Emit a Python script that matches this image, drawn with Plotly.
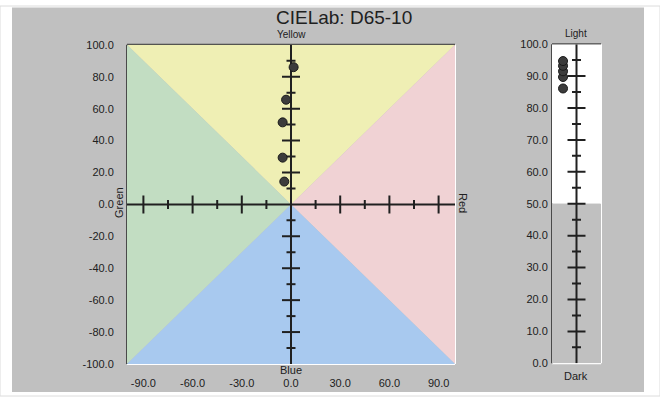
import plotly.graph_objects as go

# --- Data -------------------------------------------------------------
# CIELab samples (a*, b*, L*)
a_vals = [1.6, -3.0, -5.1, -5.1, -4.1]
b_vals = [86.0, 65.6, 51.4, 29.3, 14.3]
L_vals = [86.1, 89.7, 91.5, 93.2, 94.7]

ab_ticks = [-90, -60, -30, 0, 30, 60, 90]
ab_ticktext = ["-90.0", "-60.0", "-30.0", "0.0", "30.0", "60.0", "90.0"]
b_ticks = [-100, -80, -60, -40, -20, 0, 20, 40, 60, 80, 100]
b_ticktext = ["-100.0", "-80.0", "-60.0", "-40.0", "-20.0", "0.0",
              "20.0", "40.0", "60.0", "80.0", "100.0"]
L_ticks = [0, 10, 20, 30, 40, 50, 60, 70, 80, 90, 100]
L_ticktext = ["0.0", "10.0", "20.0", "30.0", "40.0", "50.0",
              "60.0", "70.0", "80.0", "90.0", "100.0"]

# cross-hair tick marks drawn on the centre axes
a_major = [-90, -60, -30, 30, 60, 90]
a_minor = [-75, -45, -15, 15, 45, 75]
b_major = [-80, -60, -40, -20, 20, 40, 60, 80]
b_minor = [-90, -70, -50, -30, -10, 10, 30, 50, 70, 90]
L_major = [10, 20, 30, 40, 50, 60, 70, 80, 90]
L_minor = [5, 15, 25, 35, 45, 55, 65, 75, 85, 95]

# --- Layout helpers ---------------------------------------------------
W, H = 660, 402
FONT = "Liberation Sans, Arial, sans-serif"
GRAY = "#C0C0C0"
DARK = "#202020"


def px(x):
    return x / W


def py(y):
    return 1 - y / H


fig = go.Figure()

# a*/b* scatter
fig.add_trace(go.Scatter(
    x=a_vals, y=b_vals, mode="markers", xaxis="x", yaxis="y",
    marker=dict(size=9, color="#3c3c3c", line=dict(color="#1a1a1a", width=1)),
    showlegend=False, hoverinfo="x+y"))

# L* scatter (placed left of the lightness axis)
L_column = -0.55
fig.add_trace(go.Scatter(
    x=[L_column] * len(L_vals), y=L_vals, mode="markers", xaxis="x2", yaxis="y2",
    marker=dict(size=9, color="#3c3c3c", line=dict(color="#1a1a1a", width=1)),
    showlegend=False, hoverinfo="y"))

shapes = []
# outer page frame and grey panel
shapes.append(dict(type="rect", xref="paper", yref="paper", x0=0, x1=1, y0=0, y1=1,
                   line=dict(color="#dcdcdc", width=1), fillcolor="white", layer="below"))
shapes.append(dict(type="rect", xref="paper", yref="paper", x0=px(12), x1=px(644),
                   y0=py(398), y1=py(1.5), line=dict(width=0), fillcolor=GRAY, layer="below"))

# hue quadrants
quadrants = [
    ("M -100,100 L 100,100 L 0,0 Z", "#EFEFB4"),    # yellow
    ("M -100,100 L 0,0 L -100,-100 Z", "#C2DDC2"),  # green
    ("M 100,100 L 100,-100 L 0,0 Z", "#F0D2D4"),    # red
    ("M -100,-100 L 0,0 L 100,-100 Z", "#A8C9EF"),  # blue
]
for path, col in quadrants:
    shapes.append(dict(type="path", xref="x", yref="y", path=path,
                       fillcolor=col, line=dict(width=0), layer="below"))

# sunken frame of the a*/b* plot
shapes += [
    dict(type="line", xref="x domain", yref="y domain", x0=0, x1=1, y0=0, y1=0,
         line=dict(color="white", width=2), layer="below"),
    dict(type="line", xref="x domain", yref="y domain", x0=1, x1=1, y0=0, y1=1,
         line=dict(color="white", width=2), layer="below"),
    dict(type="line", xref="x domain", yref="y domain", x0=0, x1=1, y0=1, y1=1,
         line=dict(color="#4a4a4a", width=2), layer="below"),
    dict(type="line", xref="x domain", yref="y domain", x0=0, x1=0, y0=0, y1=1,
         line=dict(color="#4a4a4a", width=2), layer="below"),
]

# centre axes
shapes.append(dict(type="line", xref="x", yref="y", x0=-100, x1=100, y0=0, y1=0,
                   line=dict(color=DARK, width=2), layer="below"))
shapes.append(dict(type="line", xref="x", yref="y", x0=0, x1=0, y0=-100, y1=100,
                   line=dict(color=DARK, width=2), layer="below"))
for v in a_major + a_minor:
    half = 9 if v in a_major else 4.5
    shapes.append(dict(type="line", xref="x", yref="y", x0=v, x1=v,
                       ysizemode="pixel", yanchor=0, y0=-half, y1=half,
                       line=dict(color=DARK, width=2), layer="below"))
for v in b_major + b_minor:
    half = 9 if v in b_major else 4.5
    shapes.append(dict(type="line", xref="x", yref="y", y0=v, y1=v,
                       xsizemode="pixel", xanchor=0, x0=-half, x1=half,
                       line=dict(color=DARK, width=2), layer="below"))

# lightness panel: white upper half, grey lower half
shapes.append(dict(type="rect", xref="x2", yref="y2", x0=-1, x1=1, y0=50, y1=100,
                   fillcolor="white", line=dict(width=0), layer="below"))
shapes.append(dict(type="rect", xref="x2", yref="y2", x0=-1, x1=1, y0=0, y1=50,
                   fillcolor=GRAY, line=dict(width=0), layer="below"))
shapes += [
    dict(type="line", xref="x2 domain", yref="y2 domain", x0=0, x1=1, y0=0, y1=0,
         line=dict(color="white", width=2), layer="below"),
    dict(type="line", xref="x2 domain", yref="y2 domain", x0=1, x1=1, y0=0, y1=1,
         line=dict(color="white", width=2), layer="below"),
    dict(type="line", xref="x2 domain", yref="y2 domain", x0=0, x1=1, y0=1, y1=1,
         line=dict(color="#4a4a4a", width=2), layer="below"),
    dict(type="line", xref="x2 domain", yref="y2 domain", x0=0, x1=0, y0=0, y1=1,
         line=dict(color="#4a4a4a", width=2), layer="below"),
]
shapes.append(dict(type="line", xref="x2", yref="y2", x0=0, x1=0, y0=0, y1=100,
                   line=dict(color=DARK, width=2), layer="below"))
for v in L_major + L_minor:
    half = 9 if v in L_major else 4.5
    shapes.append(dict(type="line", xref="x2", yref="y2", y0=v, y1=v,
                       xsizemode="pixel", xanchor=0, x0=-half, x1=half,
                       line=dict(color=DARK, width=2), layer="below"))

# text labels
def label(text, x, y, size=10, angle=0):
    return dict(text=text, x=px(x), y=py(y), xref="paper", yref="paper",
                showarrow=False, textangle=angle, xanchor="center", yanchor="middle",
                font=dict(family=FONT, size=size, color=DARK))


annotations = [
    label("CIELab: D65-10", 344, 12, size=19),
    label("Yellow", 291, 29, size=10),
    label("Blue", 291, 375, size=11),
    label("Red", 463, 203, size=11, angle=90),
    label("Green", 119, 203, size=11, angle=-90),
    label("Light", 576, 28, size=10),
    label("Dark", 576, 381, size=11),
]

axis_font = dict(family=FONT, size=11, color=DARK)
fig.update_layout(
    width=W, height=H, autosize=False,
    margin=dict(l=0, r=0, t=0, b=0),
    paper_bgcolor="white", plot_bgcolor="rgba(0,0,0,0)",
    font=dict(family=FONT, color=DARK),
    showlegend=False,
    shapes=shapes, annotations=annotations,
    xaxis=dict(domain=[px(127), px(455)], range=[-100, 100], anchor="y",
               showgrid=False, zeroline=False, showline=False,
               tickmode="array", tickvals=ab_ticks, ticktext=ab_ticktext,
               ticks="outside", ticklen=9, tickcolor="rgba(0,0,0,0)",
               tickfont=axis_font, fixedrange=True),
    yaxis=dict(domain=[py(369), py(40)], range=[-100, 100], anchor="x",
               showgrid=False, zeroline=False, showline=False,
               tickmode="array", tickvals=b_ticks, ticktext=b_ticktext,
               ticks="outside", ticklen=10, tickcolor="rgba(0,0,0,0)",
               tickfont=axis_font, fixedrange=True),
    xaxis2=dict(domain=[px(552), px(601)], range=[-1, 1], anchor="y2",
                visible=False, fixedrange=True),
    yaxis2=dict(domain=[py(368.3), py(39.3)], range=[0, 100], anchor="x2",
                showgrid=False, zeroline=False, showline=False,
                tickmode="array", tickvals=L_ticks, ticktext=L_ticktext,
                ticks="outside", ticklen=1, tickcolor="rgba(0,0,0,0)",
                tickfont=axis_font, fixedrange=True),
)

fig.write_html("out.html")
